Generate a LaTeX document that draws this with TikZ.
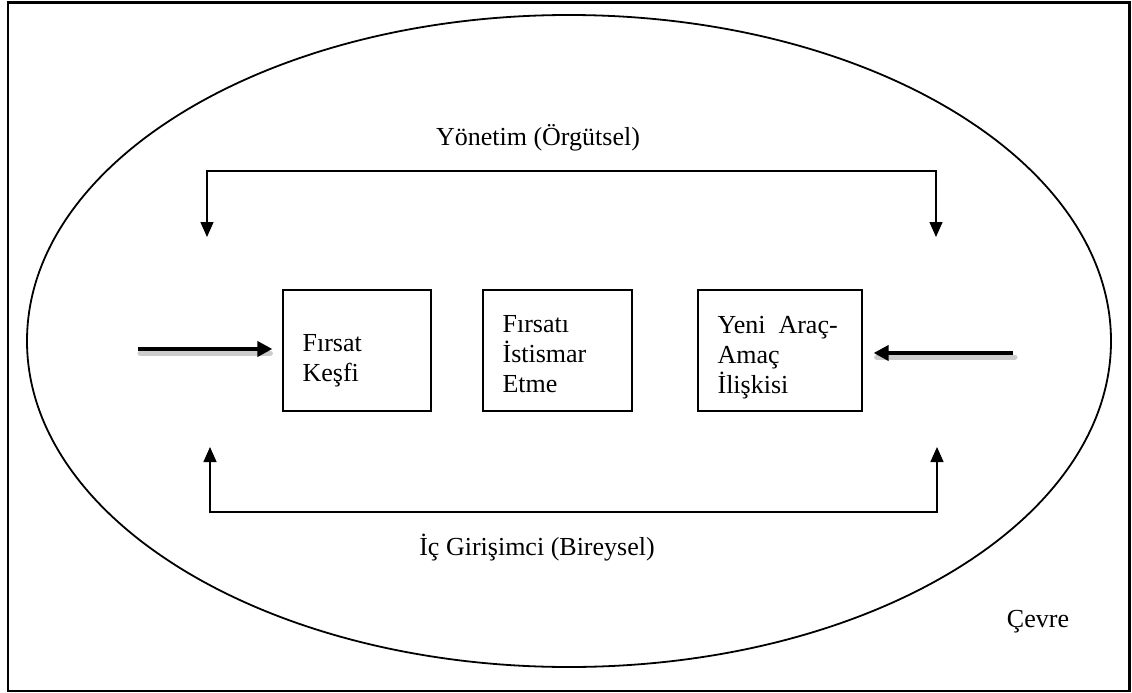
\documentclass[tikz,border=0pt]{standalone}
\usepackage{fontspec}
\setmainfont{Liberation Serif}
\usetikzlibrary{arrows.meta,positioning}

\tikzset{
  kutu/.style={draw, line width=1.2pt, minimum height=121pt, inner sep=0pt},
  yazi/.style={align=left, inner sep=0pt, anchor=base west, font=\fontsize{26}{30}\selectfont},
  etiket/.style={inner sep=0pt, anchor=base, font=\fontsize{26}{30}\selectfont},
  ciftok/.style={line width=1.4pt, arrows={Triangle[width=13pt,length=15pt]-Triangle[width=13pt,length=15pt]}},
  kalin/.style={line width=4.5pt, -{Triangle[width=15pt,length=15pt]}},
  golge/.style={line width=5pt, draw=black!20, line cap=round}
}

\begin{document}
\begin{tikzpicture}[x=1pt,y=-1pt]
\useasboundingbox (0,0) rectangle (1132,693);

% cerceve ve cevre
\draw[line width=2.6pt] (8,2.5) rectangle (1129.5,691);
\draw[line width=1.8pt] (569,341) ellipse [x radius=542pt, y radius=326pt];

% kutular
\node[kutu, minimum width=148pt] (kesif) at (357,350.5) {};
\node[kutu, minimum width=149pt] (istismar) at (557.5,350.5) {};
\node[kutu, minimum width=164pt] (iliski) at (780,350.5) {};

% base = son satirin tabani
\node[yazi] (kesifyazi) at ([xshift=20pt,yshift=-92pt]kesif.north west) {Fırsat\\Keşfi};
\node[yazi] (istismaryazi) at ([xshift=20pt,yshift=-103pt]istismar.north west) {Fırsatı\\İstismar\\Etme};
\node[yazi] (iliskiyazi) at ([xshift=20pt,yshift=-104pt]iliski.north west) {Yeni\hspace{0.5em}Araç-\\Amaç\\İlişkisi};

% etiketler
\node[etiket] (yonetim) at (538,145) {Yönetim (Örgütsel)};
\node[etiket] (girisimci) at (537,555) {İç Girişimci (Bireysel)};
\node[etiket] (cevre) at (1038,627) {Çevre};

% ust ve alt baglantilar
\coordinate (ysol) at (207,237);
\coordinate (ysag) at (936,237);
\coordinate (yust) at (571,171);
\draw[ciftok] (ysol) |- (yust) -| (ysag);

\coordinate (gsol) at (210,447);
\coordinate (gsag) at (937,447);
\coordinate (galt) at (573,512);
\draw[ciftok] (gsol) |- (galt) -| (gsag);

% kalin oklar
\coordinate (solgiris) at (138,349);
\coordinate (saggiris) at (1013,353);
\draw[golge] ([shift={(2,4)}]solgiris) -- ([shift={(-12,4)}]solgiris -| kesif.west);
\draw[golge] ([shift={(2,4)}]saggiris) -- ([shift={(14,4)}]saggiris -| iliski.east);
\draw[kalin, shorten >=10pt] (solgiris) -- (solgiris -| kesif.west);
\draw[kalin, shorten >=11pt] (saggiris) -- (saggiris -| iliski.east);
\end{tikzpicture}
\end{document}
